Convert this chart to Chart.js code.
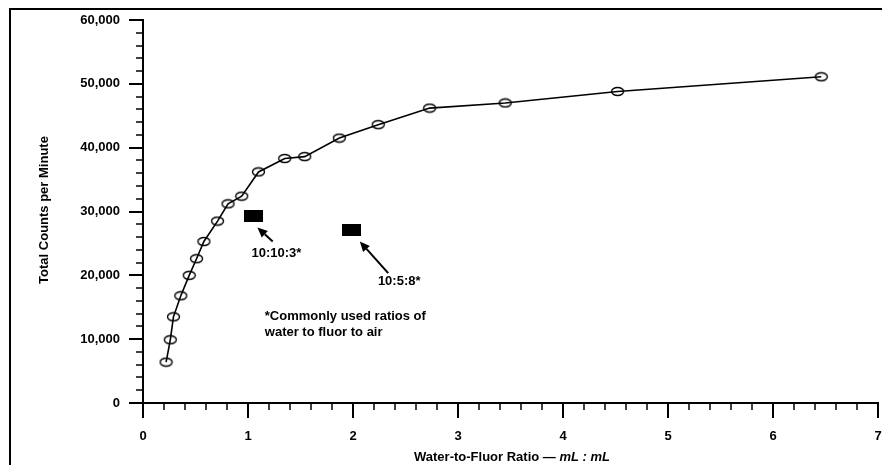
<!DOCTYPE html>
<html>
<head>
<meta charset="utf-8">
<script src="https://cdn.jsdelivr.net/npm/chart.js@4/dist/chart.umd.min.js"></script>
<style>
    html, body { margin: 0; padding: 0; background: #fff; }
    #wrap { width: 882px; height: 465px; position: relative; }
</style>
</head>
<body>
<div id="wrap"><canvas id="fluorChart"></canvas></div>
<script>
// Water-to-fluor ratio (mL : mL) and total counts per minute
const ratios = [0.22, 0.26, 0.29, 0.36, 0.44, 0.51, 0.58, 0.71, 0.81, 0.94, 1.10, 1.35, 1.54, 1.87, 2.24, 2.73, 3.45, 4.52, 6.46];
const countsPerMinute = [6400, 9900, 13500, 16800, 20000, 22600, 25300, 28500, 31200, 32400, 36200, 38300, 38600, 41500, 43600, 46200, 47000, 48800, 51100];

// commonly used water:fluor:air ratios
const commonRatioX = [1.05, 1.99];
const commonRatioY = [29300, 27100];
const commonRatioLabels = ['10:10:3*', '10:5:8*'];

const xTickValues = [0, 1, 2, 3, 4, 5, 6, 7];
const yTickValues = [0, 10000, 20000, 30000, 40000, 50000, 60000];

const FAMILY = '"Liberation Sans", Arial, Helvetica, sans-serif';
const tickFont = { family: FAMILY, size: 13, weight: 'bold' };

// open ellipse marker
const ellipse = document.createElement('canvas');
ellipse.width = 15; ellipse.height = 11;
(function() {
    const c = ellipse.getContext('2d');
    c.strokeStyle = '#000';
    c.lineWidth = 1.4;
    c.beginPath();
    c.ellipse(7.5, 5.5, 6, 4, 0, 0, Math.PI * 2);
    c.stroke();
})();

// solid black bar marker
const block = document.createElement('canvas');
block.width = 19; block.height = 12;
(function() {
    const c = block.getContext('2d');
    c.fillStyle = '#000';
    c.fillRect(0, 0, 19, 12);
})();

// arrows + labels, in data units
const callouts = [
    { tip: [1.09, 27500], tail: [1.235, 25300], text: commonRatioLabels[0], at: [1.27, 23400] },
    { tip: [2.065, 25300], tail: [2.335, 20350], text: commonRatioLabels[1], at: [2.44, 19000] }
];
const noteLines = ['*Commonly used ratios of', 'water to fluor to air'];
const noteAt = [1.16, 13600];

function arrow(ctx, x1, y1, x2, y2) {
    const ang = Math.atan2(y2 - y1, x2 - x1);
    const head = 10, half = 4.5;
    const bx = x2 - head * Math.cos(ang), by = y2 - head * Math.sin(ang);
    ctx.lineWidth = 2;
    ctx.beginPath();
    ctx.moveTo(x1, y1);
    ctx.lineTo(bx, by);
    ctx.stroke();
    ctx.beginPath();
    ctx.moveTo(x2, y2);
    ctx.lineTo(bx + half * Math.sin(ang), by - half * Math.cos(ang));
    ctx.lineTo(bx - half * Math.sin(ang), by + half * Math.cos(ang));
    ctx.closePath();
    ctx.fill();
}

// scale label padding would otherwise eat into the plot area
function noEdgePadding(s) {
    s.paddingLeft = 0;
    s.paddingRight = 0;
    s.paddingTop = 0;
    s.paddingBottom = 0;
}

const decor = {
    id: 'decor',
    afterDraw(chart) {
        const ctx = chart.ctx;
        const xs = chart.scales.x, ys = chart.scales.y;
        const x0 = xs.getPixelForValue(0), y0 = ys.getPixelForValue(0);
        ctx.save();
        ctx.strokeStyle = '#000';
        ctx.fillStyle = '#000';

        // frame
        ctx.lineWidth = 2;
        ctx.beginPath();
        ctx.moveTo(10, 465);
        ctx.lineTo(10, 9);
        ctx.lineTo(882, 9);
        ctx.stroke();

        // x ticks, every 0.2
        for (let i = 0; i <= 35; i++) {
            const major = i % 5 === 0;
            const px = Math.round(xs.getPixelForValue(i * 0.2));
            ctx.lineWidth = major ? 2 : 1.5;
            ctx.beginPath();
            ctx.moveTo(px, y0);
            ctx.lineTo(px, y0 + (major ? 15 : 7));
            ctx.stroke();
        }
        // y ticks, every 2000
        for (let i = 0; i <= 30; i++) {
            const major = i % 5 === 0;
            const py = Math.round(ys.getPixelForValue(i * 2000));
            ctx.lineWidth = major ? 2 : 1.5;
            ctx.beginPath();
            ctx.moveTo(x0, py);
            ctx.lineTo(x0 - (major ? 14 : 7), py);
            ctx.stroke();
        }

        // callouts
        ctx.font = 'bold 13px ' + FAMILY;
        ctx.textAlign = 'center';
        ctx.textBaseline = 'middle';
        callouts.forEach(c => {
            arrow(ctx,
                xs.getPixelForValue(c.tail[0]), ys.getPixelForValue(c.tail[1]),
                xs.getPixelForValue(c.tip[0]), ys.getPixelForValue(c.tip[1]));
            ctx.fillText(c.text, xs.getPixelForValue(c.at[0]), ys.getPixelForValue(c.at[1]));
        });
        ctx.textAlign = 'left';
        noteLines.forEach((t, i) => {
            ctx.fillText(t, xs.getPixelForValue(noteAt[0]), ys.getPixelForValue(noteAt[1]) + i * 16);
        });

        // x axis title with italic units
        const partA = 'Water-to-Fluor Ratio \u2014 ';
        const partB = 'mL : mL';
        ctx.font = 'bold 13px ' + FAMILY;
        const wA = ctx.measureText(partA).width;
        ctx.font = 'italic bold 13px ' + FAMILY;
        const wB = ctx.measureText(partB).width;
        const sx = 512 - (wA + wB) / 2;
        ctx.font = 'bold 13px ' + FAMILY;
        ctx.fillText(partA, sx, 457);
        ctx.font = 'italic bold 13px ' + FAMILY;
        ctx.fillText(partB, sx + wA, 457);

        // y axis title
        ctx.translate(44, 210);
        ctx.rotate(-Math.PI / 2);
        ctx.textAlign = 'center';
        ctx.font = 'bold 13px ' + FAMILY;
        ctx.fillText('Total Counts per Minute', 0, 0);
        ctx.restore();
    }
};

new Chart(document.getElementById('fluorChart').getContext('2d'), {
    type: 'line',
    data: {
        datasets: [{
            label: 'Counts',
            data: ratios.map((r, i) => ({ x: r, y: countsPerMinute[i] })),
            borderColor: '#000',
            borderWidth: 1.6,
            pointStyle: ellipse,
            tension: 0,
            fill: false
        }, {
            label: 'Common ratios',
            data: commonRatioX.map((r, i) => ({ x: r, y: commonRatioY[i] })),
            showLine: false,
            pointStyle: block
        }]
    },
    options: {
        responsive: true,
        maintainAspectRatio: false,
        animation: false,
        devicePixelRatio: 1,
        layout: { autoPadding: false, padding: { left: 0, right: 4, top: 20, bottom: 0 } },
        plugins: {
            legend: { display: false },
            tooltip: { enabled: false }
        },
        scales: {
            x: {
                type: 'linear',
                min: 0,
                max: 7,
                afterBuildTicks: s => { s.ticks = xTickValues.map(v => ({ value: v })); },
                afterFit: s => { s.height = 62; noEdgePadding(s); },
                ticks: { color: '#000', font: tickFont, padding: 26, maxRotation: 0, autoSkip: false },
                grid: { display: true, drawOnChartArea: false, drawTicks: false },
                border: { display: true, color: '#000', width: 2 }
            },
            y: {
                min: 0,
                max: 60000,
                afterBuildTicks: s => { s.ticks = yTickValues.map(v => ({ value: v })); },
                afterFit: s => { s.width = 143; noEdgePadding(s); },
                ticks: { color: '#000', font: tickFont, padding: 23 },
                grid: { display: true, drawOnChartArea: false, drawTicks: false },
                border: { display: true, color: '#000', width: 2 }
            }
        }
    },
    plugins: [decor]
});
</script>
</body>
</html>
